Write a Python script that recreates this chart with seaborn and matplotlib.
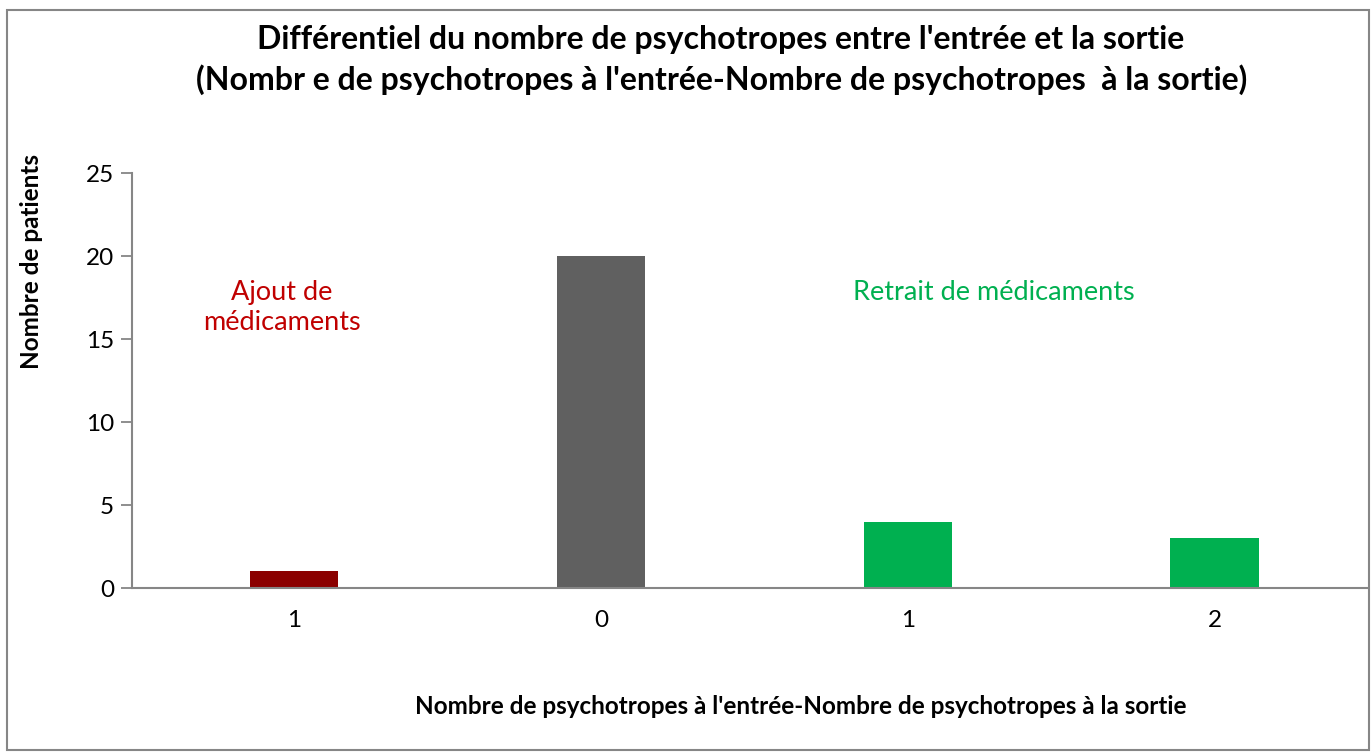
import matplotlib
matplotlib.use("Agg")
import matplotlib.pyplot as plt
import seaborn as sns
import pandas as pd
from matplotlib.patches import Rectangle

categories = ["1", "0", "1 ", "2"]
values = [1, 20, 4, 3]
colors = ["#8B0000", "#606060", "#00B050", "#00B050"]
yticks = [0, 5, 10, 15, 20, 25]

sns.set_theme(style="white")
plt.rcParams['font.family'] = ['Lato', 'DejaVu Sans']
plt.rcParams['text.color'] = 'black'
plt.rcParams['xtick.color'] = 'black'
plt.rcParams['ytick.color'] = 'black'

fig = plt.figure(figsize=(13.72, 7.53), dpi=100)
ax = fig.add_axes([0.0962, 0.219, 0.9008, 0.551])

df = pd.DataFrame({"cat": categories, "val": values})
sns.barplot(data=df, x="cat", y="val", hue="cat", palette=colors, legend=False,
            width=0.287, ax=ax, saturation=1, linewidth=0)

ax.set_xlim(-0.528, 3.5)
ax.set_ylim(0, 25)
ax.set_yticks(yticks)
ax.set_yticklabels([str(t) for t in yticks], fontsize=17.5)
ax.set_xticks(range(4))
ax.set_xticklabels(["1", "0", "1", "2"], fontsize=17.5)
ax.tick_params(axis='y', which='both', left=True, length=8, width=1.3, color="#868686", pad=5)
ax.tick_params(axis='x', bottom=False, pad=10)
ax.set_xlabel("")
ax.set_ylabel("")
for s in ["top", "right"]:
    ax.spines[s].set_visible(False)
for s in ["left", "bottom"]:
    ax.spines[s].set_color("#868686")
    ax.spines[s].set_linewidth(1.5)

fig.text(0.525, 0.948, "Différentiel du nombre de psychotropes entre l'entrée et la sortie",
         ha="center", va="center", fontsize=23, fontweight="bold")
fig.text(0.526, 0.894, "(Nombr e de psychotropes à l'entrée-Nombre de psychotropes  à la sortie)",
         ha="center", va="center", fontsize=23, fontweight="bold")

fig.text(0.023, 0.653, "Nombre de patients", rotation=90, ha="center", va="center",
         fontsize=17.5, fontweight="bold")
fig.text(0.584, 0.0624, "Nombre de psychotropes à l'entrée-Nombre de psychotropes à la sortie",
         ha="center", va="center", fontsize=17.5, fontweight="bold")

ax.text(-0.04, 16.9, "Ajout de\nmédicaments", ha="center", va="center", fontsize=19.5,
        color="#C00000", linespacing=1.25)
ax.text(2.28, 17.8, "Retrait de médicaments", ha="center", va="center", fontsize=19.5,
        color="#00B050")

fig.patches.append(Rectangle((0.005, 0.004), 0.993, 0.983, transform=fig.transFigure,
                             fill=False, edgecolor="#868686", linewidth=1.5))

fig.savefig("out.png", dpi=100)
